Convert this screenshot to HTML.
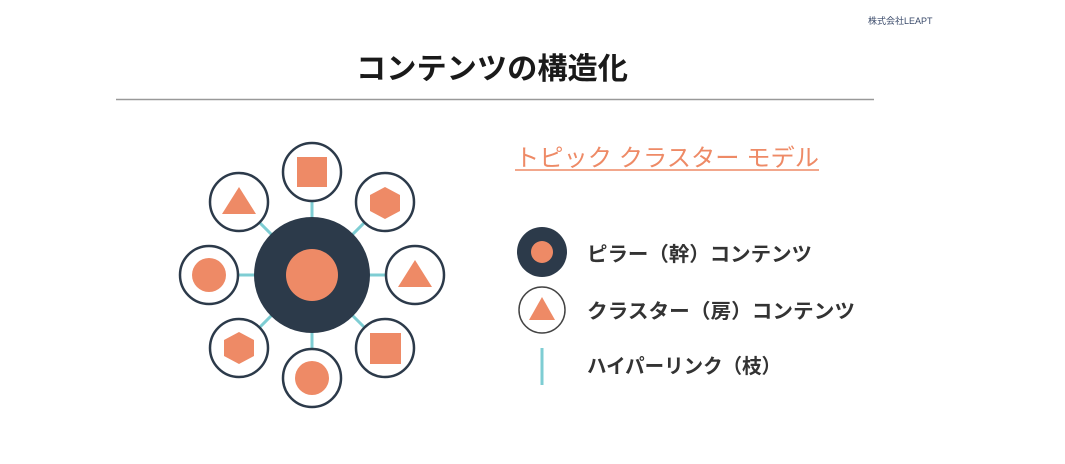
<!DOCTYPE html>
<html><head><meta charset="utf-8"><style>
body{margin:0;width:1065px;height:464px;background:#fff;overflow:hidden;font-family:"Liberation Sans","Noto Sans CJK JP",sans-serif;}
</style></head><body>
<svg width="1065" height="464" xmlns="http://www.w3.org/2000/svg" style="position:absolute;left:0;top:0">
<text x="868" y="24" font-size="9" fill="#3a4a6a" font-family="Liberation Sans,Noto Sans CJK JP,sans-serif">株式会社LEAPT</text>
<text x="356" y="79" font-size="30" font-weight="bold" fill="#1a1a1a" textLength="272" lengthAdjust="spacingAndGlyphs" font-family="Liberation Sans,Noto Sans CJK JP,sans-serif">コンテンツの構造化</text>
<line x1="116" y1="99.5" x2="874" y2="99.5" stroke="#999" stroke-width="1.5"/>
<g stroke="#7ecdd3" stroke-width="3">
<line x1="312" y1="275" x2="312" y2="172"/><line x1="312" y1="275" x2="312" y2="378"/>
<line x1="312" y1="275" x2="209" y2="275"/><line x1="312" y1="275" x2="415" y2="275"/>
<line x1="312" y1="275" x2="239" y2="202"/><line x1="312" y1="275" x2="385" y2="202"/>
<line x1="312" y1="275" x2="239" y2="348"/><line x1="312" y1="275" x2="385" y2="348"/>
</g>
<circle cx="312" cy="275" r="58" fill="#2c3a4a"/>
<circle cx="312" cy="275" r="26" fill="#ee8a66"/>
<g fill="#fff" stroke="#2c3a4a" stroke-width="2.5">
<circle cx="312" cy="172" r="29"/><circle cx="312" cy="378" r="29"/>
<circle cx="209" cy="275" r="29"/><circle cx="415" cy="275" r="29"/>
<circle cx="239" cy="202" r="29"/><circle cx="385" cy="202" r="29"/>
<circle cx="239" cy="348" r="29"/><circle cx="385" cy="348" r="29"/>
</g>
<g fill="#ee8a66">
<rect x="297" y="157" width="30" height="30"/>
<circle cx="312" cy="378" r="17"/>
<circle cx="209" cy="275" r="17"/>
<polygon points="415,260 432,287 398,287"/>
<polygon points="239,187 256,214 222,214"/>
<polygon points="385,187 400,195 400,211 385,219 370,211 370,195"/>
<polygon points="239,332 254,340 254,356 239,364 224,356 224,340"/>
<rect x="370" y="333" width="31" height="31"/>
</g>
<text x="515" y="166" font-size="24" fill="#ee8a66" textLength="304" lengthAdjust="spacingAndGlyphs" font-family="Liberation Sans,Noto Sans CJK JP,sans-serif">トピック クラスター モデル</text>
<line x1="515" y1="170" x2="819" y2="170" stroke="#ee8a66" stroke-width="1.5"/>
<circle cx="542" cy="252" r="25" fill="#2c3a4a"/>
<circle cx="542" cy="252" r="11" fill="#ee8a66"/>
<circle cx="542" cy="310" r="23" fill="#fff" stroke="#444" stroke-width="1.5"/>
<polygon points="542,297 555,320 529,320" fill="#ee8a66"/>
<line x1="542" y1="348" x2="542" y2="385" stroke="#7ecdd3" stroke-width="3"/>
<g font-size="20" font-weight="bold" fill="#333" font-family="Liberation Sans,Noto Sans CJK JP,sans-serif" lengthAdjust="spacingAndGlyphs">
<text x="587" y="261" textLength="225" lengthAdjust="spacingAndGlyphs">ピラー（幹）コンテンツ</text>
<text x="587" y="318" textLength="268" lengthAdjust="spacingAndGlyphs">クラスター（房）コンテンツ</text>
<text x="587" y="373" textLength="194" lengthAdjust="spacingAndGlyphs">ハイパーリンク（枝）</text>
</g>
</svg>
</body></html>
